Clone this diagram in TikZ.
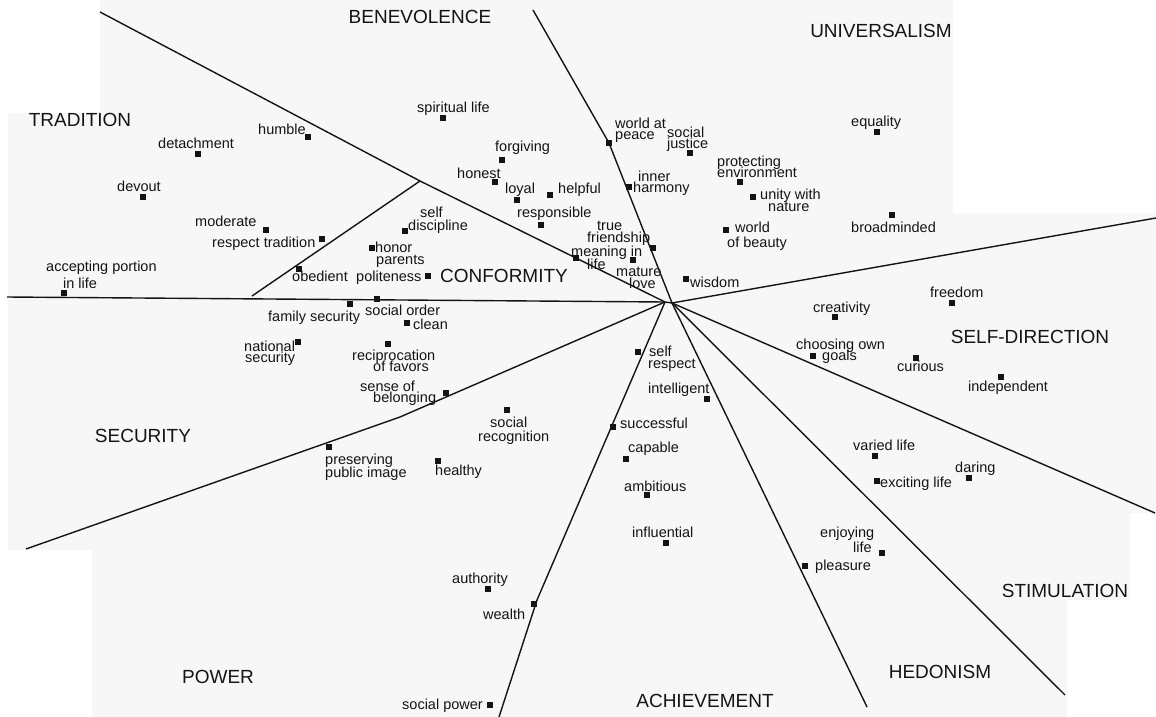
\documentclass[tikz,border=0pt]{standalone}
\usepackage{fontspec}
\setmainfont{Liberation Sans}
\definecolor{scangray}{RGB}{247,247,247}
\definecolor{ink}{RGB}{20,20,20}
\tikzset{
  cat/.style={font=\fontsize{19}{19}\selectfont, inner sep=0pt, text=ink},
  lbl/.style={font=\fontsize{14.5}{14.5}\selectfont, inner sep=0pt, anchor=base west, text=ink},
  mk/.style={fill=ink, draw=none, rectangle, minimum size=5.5pt, inner sep=0pt},
  axis/.style={line width=1.4pt, draw=ink, line join=round}
}
\begin{document}
\begin{tikzpicture}[x=1pt,y=-1pt]
\useasboundingbox (0,0) rectangle (1156,717);
% scanned paper background
\fill[scangray] (100,0) -- (953,0) -- (953,213) -- (1156,213) -- (1156,513) -- (1130,513)
  -- (1130,600) -- (1067,600) -- (1067,717) -- (92,717) -- (92,550) -- (8,550) -- (8,113) -- (100,113) -- cycle;

% centre and ends of the dividing lines
\coordinate (CL) at (665,302);
\coordinate (CR) at (672,303);
\coordinate (t1) at (100,12);
\coordinate (J)  at (420,181);
\coordinate (t2) at (7,297);
\coordinate (t3) at (252,296);
\coordinate (t4) at (533,10);
\coordinate (b4) at (609,143);
\coordinate (t5) at (1156,218);
\coordinate (t6) at (1155,513);
\coordinate (t7) at (1065,695);
\coordinate (t8) at (867,707);
\coordinate (b9) at (537,600);
\coordinate (t9) at (499,717);
\coordinate (b10) at (400,417);
\coordinate (t10) at (26,549);

\draw[axis] (t1) -- (J) -- (CL);
\draw[axis] (t2) -- (CL);
\draw[axis] (t3) -- (J);
\draw[axis] (t4) -- (b4) -- (CR);
\draw[axis] (CR) -- (t5);
\draw[axis] (CR) -- (t6);
\draw[axis] (CR) -- (t7);
\draw[axis] (CR) -- (t8);
\draw[axis] (CL) -- (b9) -- (t9);
\draw[axis] (CL) -- (b10) -- (t10);
\draw[axis] (CL) -- (CR);

% region names
\node[cat] (cBen) at (420,17) {BENEVOLENCE};
\node[cat] (cUni) at (881,31) {UNIVERSALISM};
\node[cat] (cTra) at (80,120) {TRADITION};
\node[cat] (cCon) at (504,276) {CONFORMITY};
\node[cat] (cSel) at (1030,337) {SELF-DIRECTION};
\node[cat] (cSec) at (143,436) {SECURITY};
\node[cat] (cSti) at (1065,591) {STIMULATION};
\node[cat] (cHed) at (940,672) {HEDONISM};
\node[cat] (cPow) at (218,677) {POWER};
\node[cat] (cAch) at (705,701) {ACHIEVEMENT};

% TRADITION
\node[lbl] (lHum) at (258,134) {humble};            \node[mk] (mHum) at (308,137) {};
\node[lbl] (lDet) at (158,148) {detachment};        \node[mk] (mDet) at (198,154) {};
\node[lbl] (lDev) at (117,191) {devout};            \node[mk] (mDev) at (143,197) {};
\node[lbl] (lMod) at (195,226) {moderate};          \node[mk] (mMod) at (266,230) {};
\node[lbl] (lRes) at (212,247) {respect tradition}; \node[mk] (mRes) at (322,239) {};
\node[lbl] (lAcc1) at (46,271) {accepting portion};
\node[lbl] (lAcc2) at (63,288) {in life};           \node[mk] (mAcc) at (64,293) {};
\node[lbl] (lObe) at (292,281) {obedient};          \node[mk] (mObe) at (299,269) {};

% CONFORMITY
\node[lbl] (lSd1) at (420,217) {self};
\node[lbl] (lSd2) at (408,230) {discipline};        \node[mk] (mSd) at (405,231) {};
\node[lbl] (lHp1) at (375,252) {honor};
\node[lbl] (lHp2) at (376,264) {parents};           \node[mk] (mHp) at (372,248) {};
\node[lbl] (lPol) at (356,281) {politeness};        \node[mk] (mPol) at (428,276) {};

% BENEVOLENCE
\node[lbl] (lSpi) at (417,112) {spiritual life};    \node[mk] (mSpi) at (443,118) {};
\node[lbl] (lFor) at (495,151) {forgiving};         \node[mk] (mFor) at (502,160) {};
\node[lbl] (lHon) at (457,178) {honest};            \node[mk] (mHon) at (495,182) {};
\node[lbl] (lLoy) at (505,193) {loyal};             \node[mk] (mLoy) at (517,200) {};
\node[lbl] (lHel) at (558,193) {helpful};           \node[mk] (mHel) at (550,195) {};
\node[lbl] (lRsp) at (517,217) {responsible};       \node[mk] (mRsp) at (541,225) {};
\node[lbl] (lTf1) at (597,230) {true};
\node[lbl] (lTf2) at (587,242) {friendship};        \node[mk] (mTf) at (653,248) {};
\node[lbl] (lMl1) at (571,256) {meaning in};
\node[lbl] (lMl2) at (587,269) {life};              \node[mk] (mMl) at (576,258) {};
\node[lbl] (lMa1) at (616,276) {mature};
\node[lbl] (lMa2) at (629,288) {love};              \node[mk] (mMa) at (633,260) {};

% UNIVERSALISM
\node[lbl] (lWp1) at (615,128) {world at};
\node[lbl] (lWp2) at (615,139) {peace};             \node[mk] (mWp) at (609,143) {};
\node[lbl] (lSj1) at (667,137) {social};
\node[lbl] (lSj2) at (667,148) {justice};           \node[mk] (mSj) at (690,153) {};
\node[lbl] (lIh1) at (638,181) {inner};
\node[lbl] (lIh2) at (633,192) {harmony};           \node[mk] (mIh) at (629,187) {};
\node[lbl] (lPe1) at (717,166) {protecting};
\node[lbl] (lPe2) at (717,177) {environment};       \node[mk] (mPe) at (740,182) {};
\node[lbl] (lUn1) at (760,199) {unity with};
\node[lbl] (lUn2) at (768,211) {nature};            \node[mk] (mUn) at (753,197) {};
\node[lbl] (lWb1) at (735,232) {world};
\node[lbl] (lWb2) at (727,247) {of beauty};         \node[mk] (mWb) at (726,230) {};
\node[lbl] (lWis) at (690,287) {wisdom};            \node[mk] (mWis) at (686,279) {};
\node[lbl] (lEqu) at (851,126) {equality};          \node[mk] (mEqu) at (877,132) {};
\node[lbl] (lBro) at (851,232) {broadminded};       \node[mk] (mBro) at (892,215) {};

% SELF-DIRECTION
\node[lbl] (lFre) at (930,297) {freedom};           \node[mk] (mFre) at (952,303) {};
\node[lbl] (lCre) at (813,312) {creativity};        \node[mk] (mCre) at (835,317) {};
\node[lbl] (lCg1) at (796,349) {choosing own};
\node[lbl] (lCg2) at (822,360) {goals};             \node[mk] (mCg) at (813,356) {};
\node[lbl] (lCur) at (897,371) {curious};           \node[mk] (mCur) at (916,358) {};
\node[lbl] (lInd) at (968,391) {independent};       \node[mk] (mInd) at (1001,377) {};

% STIMULATION
\node[lbl] (lVar) at (853,450) {varied life};       \node[mk] (mVar) at (875,456) {};
\node[lbl] (lExc) at (880,487) {exciting life};     \node[mk] (mExc) at (877,481) {};
\node[lbl] (lDar) at (955,472) {daring};            \node[mk] (mDar) at (969,478) {};

% HEDONISM
\node[lbl] (lEn1) at (820,537) {enjoying};
\node[lbl] (lEn2) at (853,552) {life};              \node[mk] (mEn) at (882,553) {};
\node[lbl] (lPle) at (815,570) {pleasure};          \node[mk] (mPle) at (805,566) {};

% ACHIEVEMENT
\node[lbl] (lSr1) at (649,356) {self};
\node[lbl] (lSr2) at (648,368) {respect};           \node[mk] (mSr) at (638,352) {};
\node[lbl] (lInt) at (648,393) {intelligent};       \node[mk] (mInt) at (707,399) {};
\node[lbl] (lSuc) at (620,428) {successful};        \node[mk] (mSuc) at (613,427) {};
\node[lbl] (lCap) at (628,452) {capable};           \node[mk] (mCap) at (626,459) {};
\node[lbl] (lAmb) at (624,491) {ambitious};         \node[mk] (mAmb) at (647,495) {};
\node[lbl] (lInf) at (632,537) {influential};       \node[mk] (mInf) at (666,543) {};

% POWER
\node[lbl] (lSr3) at (490,427) {social};
\node[lbl] (lSr4) at (478,441) {recognition};       \node[mk] (mSrc) at (507,410) {};
\node[lbl] (lHea) at (435,475) {healthy};           \node[mk] (mHea) at (438,461) {};
\node[lbl] (lAut) at (452,583) {authority};         \node[mk] (mAut) at (488,589) {};
\node[lbl] (lWea) at (483,619) {wealth};            \node[mk] (mWea) at (534,604) {};
\node[lbl] (lSpw) at (402,709) {social power};      \node[mk] (mSpw) at (490,705) {};
\node[lbl] (lPp1) at (325,464) {preserving};
\node[lbl] (lPp2) at (325,477) {public image};      \node[mk] (mPp) at (329,447) {};

% SECURITY
\node[lbl] (lFam) at (268,321) {family security};   \node[mk] (mFam) at (350,304) {};
\node[lbl] (lSoc) at (365,315) {social order};      \node[mk] (mSoc) at (377,299) {};
\node[lbl] (lCle) at (413,329) {clean};             \node[mk] (mCle) at (407,323) {};
\node[lbl] (lNs1) at (244,351) {national};
\node[lbl] (lNs2) at (245,362) {security};          \node[mk] (mNs) at (298,342) {};
\node[lbl] (lRf1) at (352,360) {reciprocation};
\node[lbl] (lRf2) at (373,371) {of favors};         \node[mk] (mRf) at (388,344) {};
\node[lbl] (lSb1) at (360,391) {sense of};
\node[lbl] (lSb2) at (373,402) {belonging};         \node[mk] (mSb) at (446,393) {};
\end{tikzpicture}
\end{document}
